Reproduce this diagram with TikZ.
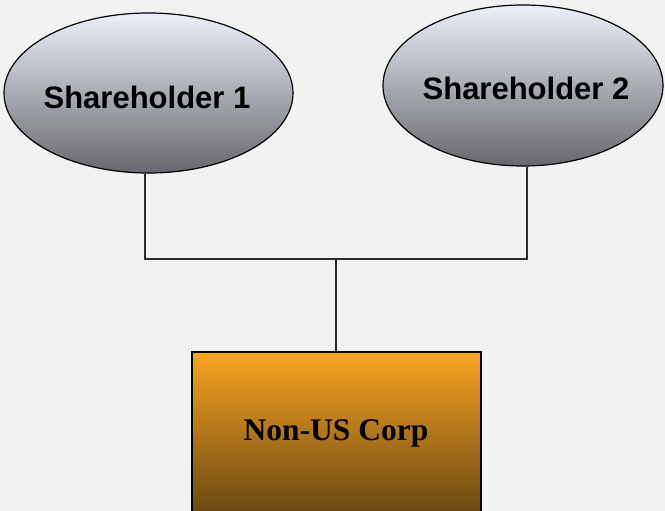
\documentclass[tikz,border=0pt]{standalone}
\usepackage{fontspec}
\setmainfont{Liberation Serif}
\newfontfamily\holderfont{Liberation Sans}
\usetikzlibrary{shapes.geometric}
\definecolor{pagebg}{HTML}{F2F2F2}
\definecolor{holdtop}{HTML}{EBF0F9}
\definecolor{holdmid}{HTML}{B9BBC1}
\definecolor{holdbot}{HTML}{67686D}
\definecolor{corptop}{HTML}{F8A520}
\definecolor{corpmid}{HTML}{BE7F1A}
\definecolor{corpbot}{HTML}{684812}
\definecolor{wire}{HTML}{2A2A2A}
\begin{document}
\begin{tikzpicture}[x=1pt,y=-1pt,
  holder/.style={ellipse, draw=black, line width=1.2pt, inner sep=0pt,
    top color=holdtop, middle color=holdmid, bottom color=holdbot,
    font=\holderfont\bfseries\fontsize{31}{36}\selectfont},
  corp/.style={rectangle, draw=black, line width=2pt, inner sep=0pt,
    minimum width=289pt, minimum height=162pt,
    top color=corptop, middle color=corpmid, bottom color=corpbot,
    font=\bfseries\fontsize{31.5}{36}\selectfont},
  wireline/.style={draw=wire, line width=1.1pt}]
  % page area
  \fill[pagebg] (0,0) rectangle (665,511);
  \useasboundingbox (0,0) rectangle (665,511);
  \clip (0,0) rectangle (665,511);
  % owners
  \node[holder, minimum width=289pt, minimum height=160pt] (s1) at (148.5,93) {};
  \node[holder, minimum width=280pt, minimum height=161pt] (s2) at (523,85.5) {};
  \node[font=\holderfont\bfseries\fontsize{31}{36}\selectfont] (t1) at (147,97) {Shareholder 1};
  \node[font=\holderfont\bfseries\fontsize{31}{36}\selectfont] (t2) at (526,88) {Shareholder 2};
  % company
  \node[corp] (c) at (336,433) {Non-US Corp};
  % ownership wiring
  \coordinate (d1) at (145,259);
  \coordinate (d2) at (527,259);
  \coordinate (j) at (336,259);
  \draw[wireline] (s1.south -| d1) -- (d1) -- (d2) -- (s2.south -| d2);
  \draw[wireline] (j) -- (c.north);
\end{tikzpicture}
\end{document}
